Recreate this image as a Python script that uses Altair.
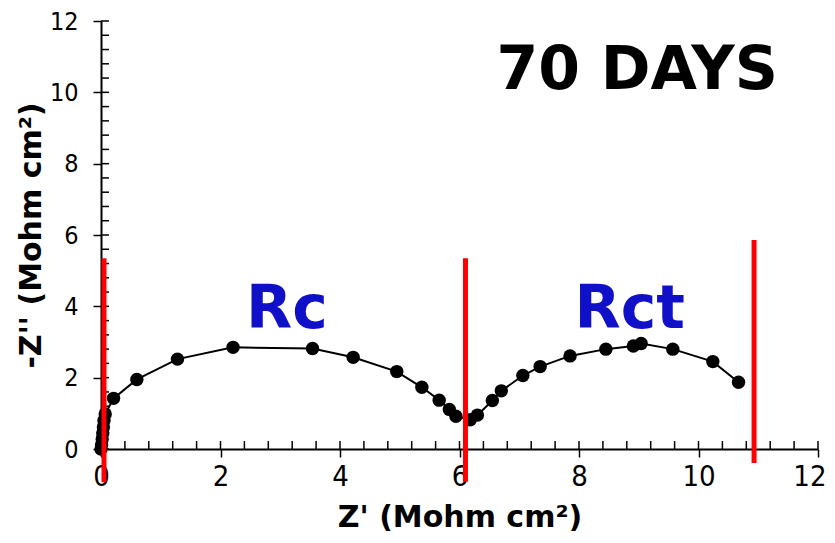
import altair as alt
import pandas as pd

# Nyquist data (Z' and -Z'' in Mohm cm^2)
z_real = [0.00, 0.01, 0.02, 0.03, 0.04, 0.05, 0.07, 0.21, 0.60, 1.28, 2.21, 3.54, 4.22,
          4.95, 5.37, 5.66, 5.83, 5.94, 6.18, 6.30, 6.55, 6.70, 7.06, 7.35, 7.85, 8.45,
          8.91, 9.04, 9.57, 10.24, 10.67]
z_imag = [0.00, 0.12, 0.28, 0.45, 0.62, 0.80, 0.98, 1.42, 1.95, 2.52, 2.85, 2.82, 2.57,
          2.17, 1.73, 1.37, 1.11, 0.92, 0.82, 0.95, 1.36, 1.63, 2.06, 2.31, 2.61, 2.80,
          2.89, 2.96, 2.80, 2.45, 1.87]

# red separator lines
sep_x = [0.05, 6.10, 10.93]
sep_top = [5.35, 5.35, 5.86]
sep_bottom = [-0.93, -0.92, -0.39]

# annotations
ann_labels = ["Rc", "Rct"]
ann_x = [3.11, 8.85]
ann_y = [3.39, 3.39]
title_label = ["70 DAYS"]
title_x = [11.33]
title_y = [10.08]

major_ticks = [0, 2, 4, 6, 8, 10, 12]
minor_ticks = [round(i * 0.4, 1) for i in range(31)]

df = pd.DataFrame({"z": z_real, "zi": z_imag, "order": list(range(len(z_real)))})
df_sep = pd.DataFrame({"z": sep_x, "zi": sep_top, "bottom": sep_bottom})
df_ann = pd.DataFrame({"label": ann_labels, "z": ann_x, "zi": ann_y})
df_title = pd.DataFrame({"label": title_label, "z": title_x, "zi": title_y})
df_minor = pd.DataFrame({"z": minor_ticks, "zi": minor_ticks})

FONT = "DejaVu Sans"
LABEL_FONT = "DejaVu Sans Condensed"
xscale = alt.Scale(domain=[0, 12], nice=False, zero=False)
yscale = alt.Scale(domain=[0, 12], nice=False, zero=False)

axis_common = dict(
    values=major_ticks, format="d", grid=False, domainColor="black", domainWidth=2,
    tickColor="black", tickWidth=1.5, tickSize=8, labelColor="black", labelFlush=False,
    labelFont=LABEL_FONT,
    titleFont=FONT, titleFontSize=30, titleFontWeight="bold", titleColor="black",
)
xaxis = alt.Axis(title="Z' (Mohm cm²)", labelPadding=5, titlePadding=11,
                 labelFontSize=29,
                 labelAlign={"expr": "datum.value == 12 ? 'right' : 'center'"},
                 labelOffset={"expr": "datum.value == 12 ? 8 : 0"},
                 **axis_common)
yaxis = alt.Axis(title="-Z'' (Mohm cm²)", labelPadding=15, titlePadding=3,
                 labelFontSize=25, **axis_common)

X = alt.X("z:Q", scale=xscale, axis=xaxis)
Y = alt.Y("zi:Q", scale=yscale, axis=yaxis)

line = alt.Chart(df).mark_line(color="black", strokeWidth=2).encode(
    x=X, y=Y, order="order:Q",
)

points = alt.Chart(df).mark_point(filled=True, color="black", size=180, opacity=1).encode(
    x=X, y=Y,
)

minor_x = alt.Chart(df_minor).mark_tick(orient="vertical", size=8, thickness=1.5,
                                        color="black", opacity=1, yOffset=-4).encode(
    x=X,
    y=alt.datum(0),
)
minor_y = alt.Chart(df_minor).mark_tick(orient="horizontal", size=8, thickness=1.5,
                                        color="black", opacity=1, xOffset=4).encode(
    y=Y,
    x=alt.datum(0),
)

seps = alt.Chart(df_sep).mark_rule(color="#ff0000", strokeWidth=5).encode(
    x=X, y=Y, y2="bottom:Q",
)

ann = alt.Chart(df_ann).mark_text(font=FONT, fontSize=60, fontWeight="bold",
                                  color="#1010c8", align="center", baseline="alphabetic").encode(
    x=X, y=Y, text="label:N",
)

title = alt.Chart(df_title).mark_text(font=FONT, fontSize=60, fontWeight="bold",
                                      color="black", align="right", baseline="alphabetic").encode(
    x=X, y=Y, text="label:N",
)

chart = alt.layer(line, minor_x, minor_y, points, seps, ann, title).properties(
    width=717, height=428,
    autosize=alt.AutoSizeParams(type="none"),
    padding={"left": 93, "top": 13, "right": 9, "bottom": 86},
).configure_view(strokeWidth=0)

chart.save("out.html", embed_options={"renderer": "svg", "actions": False})
